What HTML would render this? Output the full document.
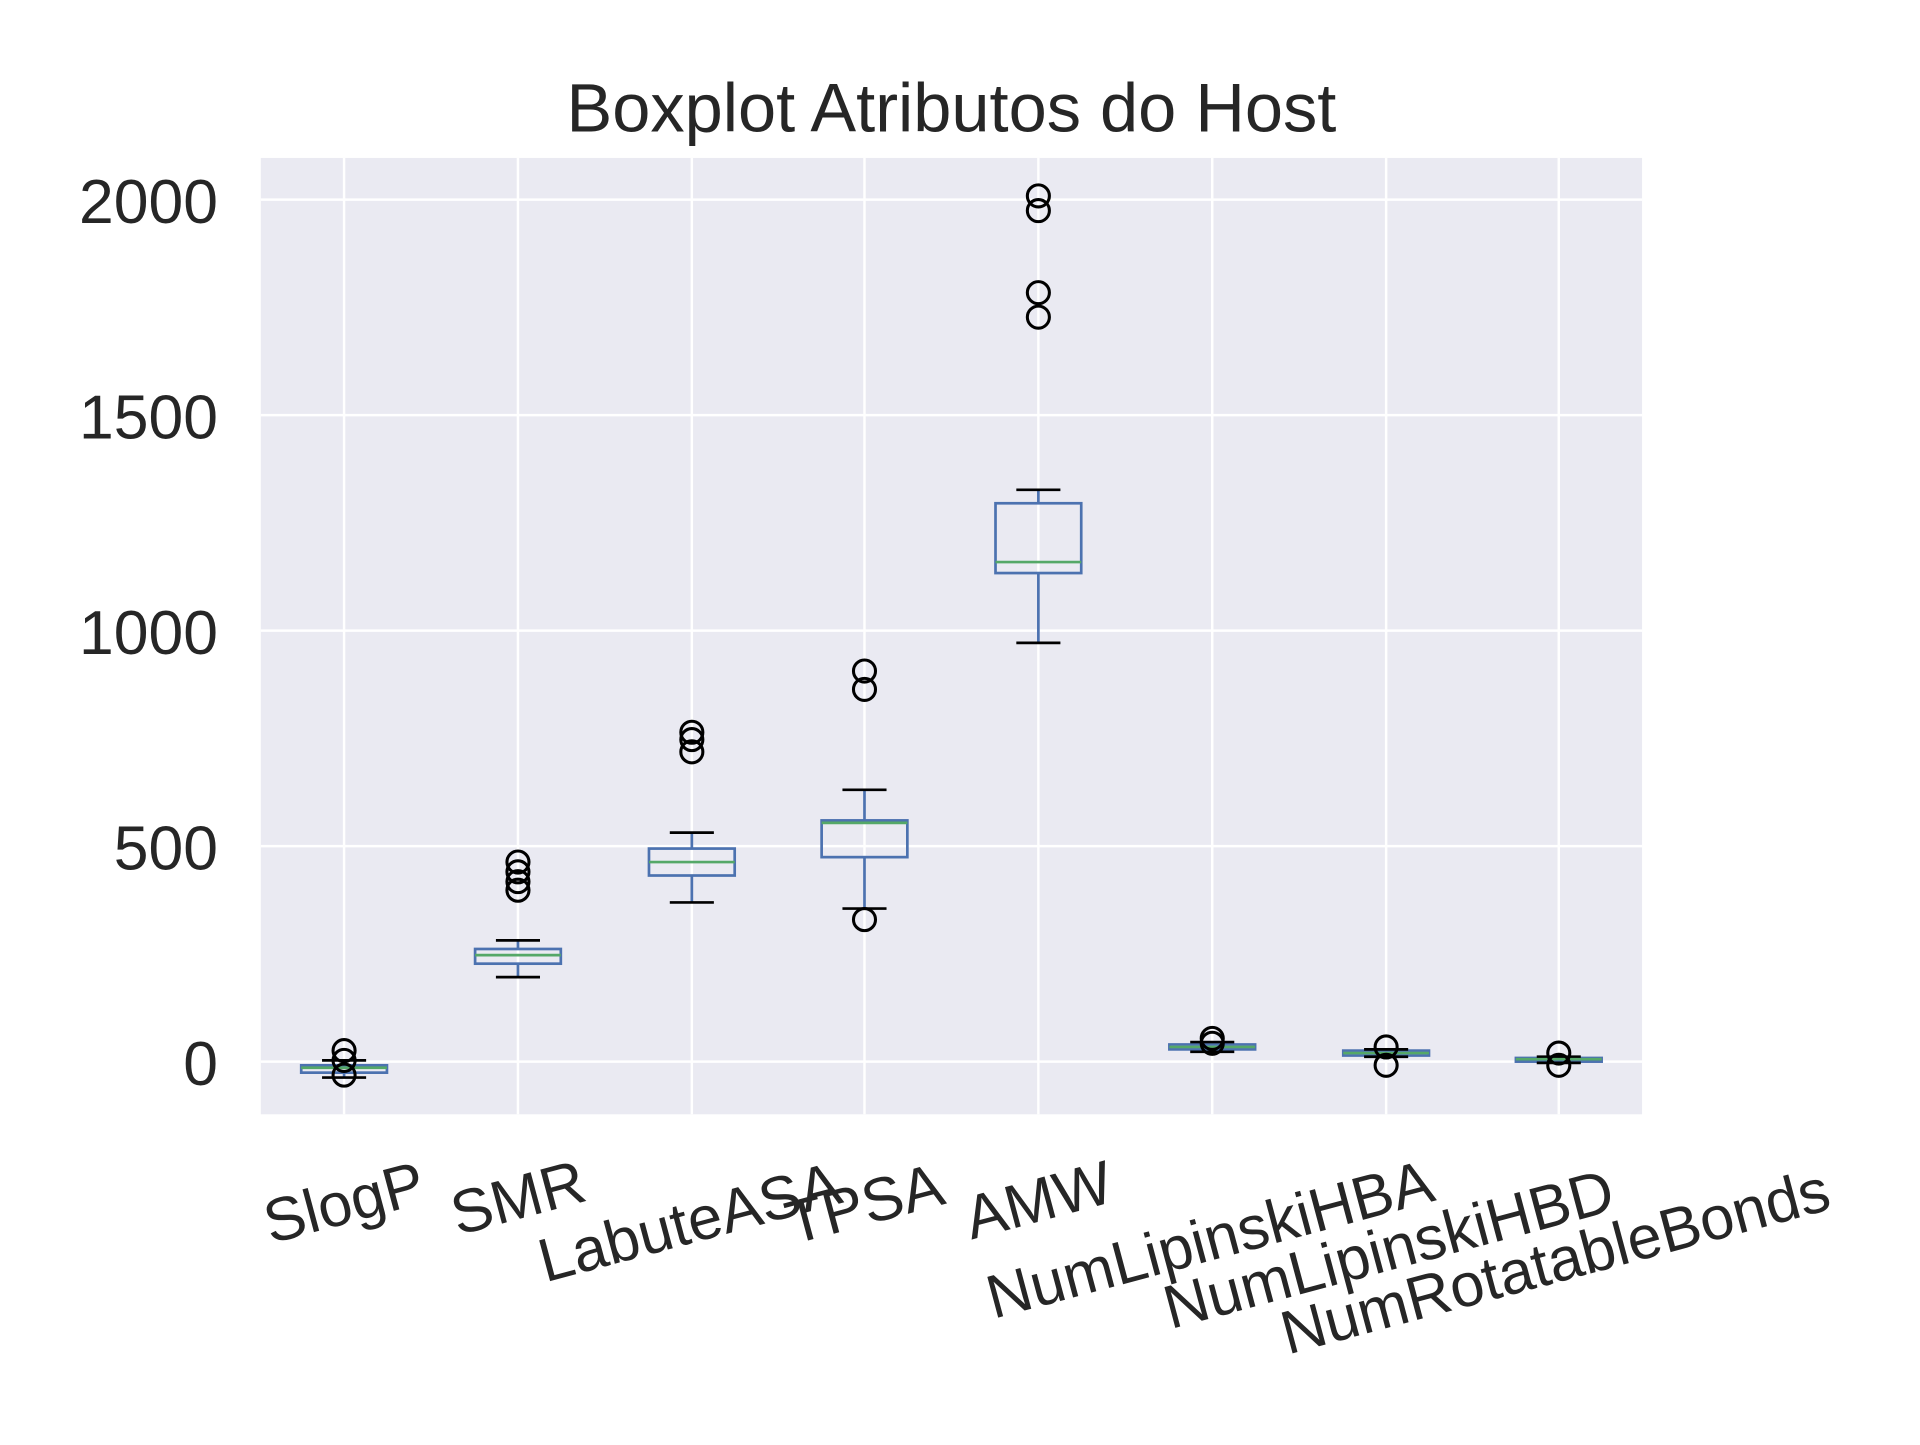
<!DOCTYPE html>
<html><head><meta charset="utf-8"><style>html,body{margin:0;padding:0;background:#fff}</style></head>
<body>
<svg width="1920" height="1440" viewBox="0 0 1568 1176" xmlns="http://www.w3.org/2000/svg" font-family="Liberation Sans, DejaVu Sans, sans-serif" fill="#262626">
<rect x="0" y="0" width="1568" height="1176" fill="#fff"/>
<rect x="213" y="129" width="1128" height="781" fill="#eaeaf2"/>
<g stroke="#fff" stroke-width="2">
<line x1="213" x2="1341" y1="163" y2="163"/><line x1="213" x2="1341" y1="339" y2="339"/><line x1="213" x2="1341" y1="515" y2="515"/><line x1="213" x2="1341" y1="691" y2="691"/><line x1="213" x2="1341" y1="867" y2="867"/>
<line y1="129" y2="910" x1="281" x2="281"/><line y1="129" y2="910" x1="423" x2="423"/><line y1="129" y2="910" x1="565" x2="565"/><line y1="129" y2="910" x1="706" x2="706"/><line y1="129" y2="910" x1="848" x2="848"/><line y1="129" y2="910" x1="990" x2="990"/><line y1="129" y2="910" x1="1132" x2="1132"/><line y1="129" y2="910" x1="1273" x2="1273"/>
</g>
<text x="777" y="88" font-size="56" text-anchor="middle" dominant-baseline="central">Boxplot Atributos do Host</text>
<g font-size="51" text-anchor="end" dominant-baseline="central">
<text x="178" y="165">2000</text><text x="178" y="341">1500</text><text x="178" y="517">1000</text><text x="178" y="693">500</text><text x="178" y="869">0</text>
</g>
<g font-size="50" text-anchor="middle" dominant-baseline="central">
<text transform="translate(281,982) rotate(-15)">SlogP</text>
<text transform="translate(423,978) rotate(-15)">SMR</text>
<text transform="translate(563,998) rotate(-15)">LabuteASA</text>
<text transform="translate(706,983) rotate(-15)">TPSA</text>
<text transform="translate(848,980) rotate(-15)">AMW</text>
<text transform="translate(988,1012) rotate(-15)">NumLipinskiHBA</text>
<text transform="translate(1134,1020) rotate(-15)">NumLipinskiHBD</text>
<text transform="translate(1270,1030) rotate(-15)">NumRotatableBonds</text>
</g>
<g fill="none" stroke="#4c72b0" stroke-width="2.2">
<rect x="246" y="870" width="70" height="6"/><line x1="281" x2="281" y1="866" y2="870"/><line x1="281" x2="281" y1="876" y2="880"/>
<rect x="388" y="775" width="70" height="12"/><line x1="423" x2="423" y1="768" y2="775"/><line x1="423" x2="423" y1="787" y2="798"/>
<rect x="530" y="693" width="70" height="22"/><line x1="565" x2="565" y1="680" y2="693"/><line x1="565" x2="565" y1="715" y2="737"/>
<rect x="671" y="670" width="70" height="30"/><line x1="706" x2="706" y1="645" y2="670"/><line x1="706" x2="706" y1="700" y2="742"/>
<rect x="813" y="411" width="70" height="57"/><line x1="848" x2="848" y1="400" y2="411"/><line x1="848" x2="848" y1="468" y2="525"/>
<rect x="955" y="853" width="70" height="4"/>
<rect x="1097" y="858" width="70" height="4"/>
<rect x="1238" y="864" width="70" height="3"/>
</g>
<g stroke="#000" stroke-width="2.2">
<line x1="263" x2="299" y1="866" y2="866"/><line x1="263" x2="299" y1="880" y2="880"/>
<line x1="405" x2="441" y1="768" y2="768"/><line x1="405" x2="441" y1="798" y2="798"/>
<line x1="547" x2="583" y1="680" y2="680"/><line x1="547" x2="583" y1="737" y2="737"/>
<line x1="688" x2="724" y1="645" y2="645"/><line x1="688" x2="724" y1="742" y2="742"/>
<line x1="830" x2="866" y1="400" y2="400"/><line x1="830" x2="866" y1="525" y2="525"/>
<line x1="972" x2="1008" y1="851" y2="851"/><line x1="972" x2="1008" y1="859" y2="859"/>
<line x1="1114" x2="1150" y1="857" y2="857"/><line x1="1114" x2="1150" y1="863" y2="863"/>
<line x1="1255" x2="1291" y1="863" y2="863"/><line x1="1255" x2="1291" y1="868" y2="868"/>
</g>
<g stroke="#55a868" stroke-width="2.2">
<line x1="246" x2="316" y1="872" y2="872"/><line x1="388" x2="458" y1="780" y2="780"/><line x1="530" x2="600" y1="704" y2="704"/><line x1="671" x2="741" y1="672" y2="672"/><line x1="813" x2="883" y1="459" y2="459"/><line x1="955" x2="1025" y1="855" y2="855"/><line x1="1097" x2="1167" y1="860" y2="860"/><line x1="1238" x2="1308" y1="865" y2="865"/>
</g>
<g fill="none" stroke="#000" stroke-width="2.5">
<circle cx="281" cy="858" r="9"/><circle cx="281" cy="866" r="9"/><circle cx="281" cy="878" r="9"/>
<circle cx="423" cy="704" r="9"/><circle cx="423" cy="712" r="9"/><circle cx="423" cy="720" r="9"/><circle cx="423" cy="727" r="9"/>
<circle cx="565" cy="598" r="9"/><circle cx="565" cy="604" r="9"/><circle cx="565" cy="614" r="9"/>
<circle cx="706" cy="548" r="9"/><circle cx="706" cy="563" r="9"/><circle cx="706" cy="751" r="9"/>
<circle cx="848" cy="160" r="9"/><circle cx="848" cy="172" r="9"/><circle cx="848" cy="239" r="9"/><circle cx="848" cy="259" r="9"/>
<circle cx="990" cy="848" r="9"/><circle cx="990" cy="852" r="9"/>
<circle cx="1132" cy="855" r="9"/><circle cx="1132" cy="870" r="9"/>
<circle cx="1273" cy="860" r="9"/><circle cx="1273" cy="870" r="9"/>
</g>
</svg>
</body></html>
